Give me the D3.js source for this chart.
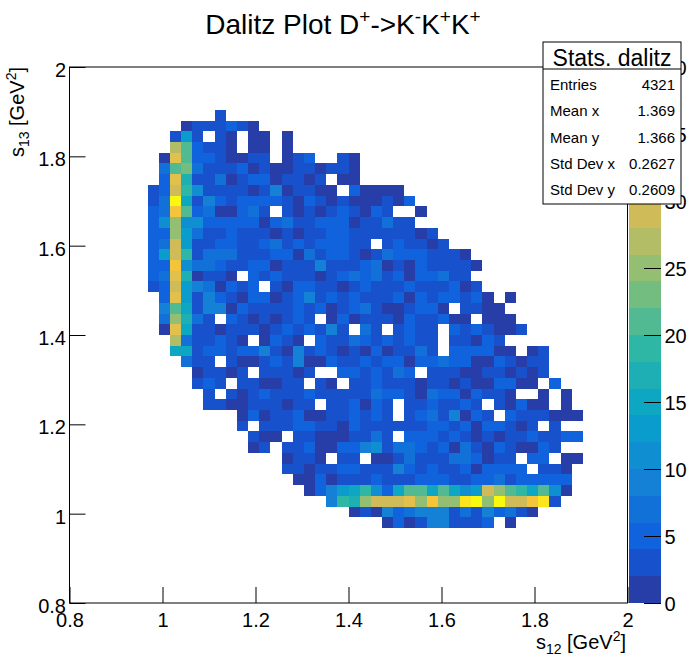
<!DOCTYPE html>
<html>
<head>
<meta charset="utf-8">
<script src="https://cdn.jsdelivr.net/npm/d3@7"></script>
<style>
  body { margin: 0; background: #fff; }
  svg { display: block; }
  text { font-family: "Liberation Sans", Arial, Helvetica, sans-serif; fill: #000; }
</style>
</head>
<body>
<svg id="chart" width="696" height="672"></svg>
<script>
// ---------------- data ----------------
// Histogram: 50 x 50 bins on [0.8, 2.0] in both s12 (x) and s13 (y).
const xRange = [0.8, 2.0];
const yRange = [0.8, 2.0];
const nBins = 50;
// Each row: [row index j (y bin), first column index i (x bin), bin contents]
// Bin content code: '.' = empty, then one character per colour level
// ('0'..'9','a'..'j' = level 0..19, level k holds counts 2k..2k+2, read as 2k+1).
const levelCodes = "0123456789abcdefghij";
const rows = [
  [45, 13, "1"],
  [44, 10, "0111210"],
  [43, 9,  "161.10.00.0"],
  [42, 9,  "da2110.00.0"],
  [41, 8,  "0fa2210011.012..10"],
  [40, 8,  "3ab311120100110110"],
  [39, 8,  "2f8113012201101.00"],
  [38, 7,  "12e95111101401100.20000"],
  [37, 7,  "13j714212222102101000102"],
  [36, 7,  "23ga2300231.1010121021..0"],
  [35, 7,  "25c552222202311222011311"],
  [34, 7,  "22c63112111010112211111101"],
  [33, 7,  "23e61122112312122211.121101"],
  [32, 7,  "26e91333111220312210132221110"],
  [31, 7,  "22g533211220111411123010211110"],
  [30, 7,  "23f80110.21211101232312022311"],
  [29, 7,  "12e6430212.1022110121112111201"],
  [28, 8,  "2f6142102201241212111202122120.0"],
  [27, 8,  "4a714402111121201231001220.1100"],
  [26, 8,  "3c831.21010121.0201110211200.000"],
  [25, 8,  "0f711011101212141.31.1211.2121001"],
  [24, 9,  "d311210.0210.21132121211.11021"],
  [23, 9,  "771221224104121010201131.222200.01"],
  [22, 10, "311.10012140021121220223220021011"],
  [21, 11, "01101.11101..2212132.11100110101"],
  [20, 11, "121.110011.10.11211101101002200.2"],
  [19, 12, "1.10121112111113221032202110..0.0"],
  [18, 12, "1100111011.112021.1121121.10200.0"],
  [17, 15, "02011200112121.12314021.2111000"],
  [16, 15, "1.1112211021111112212022101.1"],
  [15, 16, "100.110001131.2221210101121122"],
  [14, 16, "01.1120022451332120310210021"],
  [13, 19, "0110.11.0013111332011.22.00"],
  [12, 19, "1101122111421211202222.110"],
  [11, 20, "0020111211122211223122222"],
  [10, 21, "024679527aa7a756eca97a50"],
  [9,  23, "498ceeefcgccijcjeegi1"],
  [8,  25, "01042344413142310"],
  [7,  28, "0201441112.0"]
];

const xTicks = [0.8, 1.0, 1.2, 1.4, 1.6, 1.8, 2.0];
const xTickLabels = ["0.8", "1", "1.2", "1.4", "1.6", "1.8", "2"];
const yTicks = [0.8, 1.0, 1.2, 1.4, 1.6, 1.8, 2.0];
const yTickLabels = ["0.8", "1", "1.2", "1.4", "1.6", "1.8", "2"];
const zRange = [0, 40];
const zLevels = 20;
const zTicks = [0, 5, 10, 15, 20, 25, 30, 35, 40];
const zTickLabels = ["0", "5", "10", "15", "20", "25", "30", "35", "40"];

const statsTitle = "Stats. dalitz";
const statsNames = ["Entries", "Mean x", "Mean y", "Std Dev x", "Std Dev y"];
const statsValues = ["4321", "1.369", "1.366", "0.2627", "0.2609"];

// ---------------- palette (ROOT kBird) ----------------
const birdStops = [0.0, 0.125, 0.25, 0.375, 0.5, 0.625, 0.75, 0.875, 1.0];
const birdR = [0.2082, 0.0592, 0.0780, 0.0232, 0.1802, 0.5301, 0.8186, 0.9956, 0.9764];
const birdG = [0.1664, 0.3599, 0.5041, 0.6419, 0.7178, 0.7492, 0.7328, 0.7862, 0.9832];
const birdB = [0.5293, 0.8684, 0.8385, 0.7914, 0.6425, 0.4662, 0.3499, 0.1968, 0.0539];
const birdInterp = d3.scaleLinear().domain(birdStops)
  .range(birdStops.map((s, k) => d3.rgb(birdR[k] * 255, birdG[k] * 255, birdB[k] * 255)))
  .interpolate(d3.interpolateRgb).clamp(true);
function levelColor(k) {
  const p = Math.floor((k + 0.99) * 255 / zLevels);
  return birdInterp(p / 255);
}
const levelScale = d3.scaleQuantize().domain(zRange).range(d3.range(zLevels));

// ---------------- layout ----------------
const W = 696, H = 672;
const L = 69.5, R = 627.5, T = 67, B = 603;
const barX0 = 629, barX1 = 661;
const svg = d3.select("#chart");

const xs = d3.scaleLinear().domain(xRange).range([L, R]);
const ys = d3.scaleLinear().domain(yRange).range([B, T]);
const zs = d3.scaleLinear().domain(zRange).range([B, T]);
const bw = (xRange[1] - xRange[0]) / nBins;
const bh = (yRange[1] - yRange[0]) / nBins;

// decode cells
const cells = [];
rows.forEach(([j, i0, str]) => {
  for (let k = 0; k < str.length; k++) {
    const c = str[k];
    if (c === ".") continue;
    const lev = levelCodes.indexOf(c);
    cells.push({ i: i0 + k, j: j, v: 2 * lev + 1 });
  }
});

// ---------------- histogram cells ----------------
svg.append("g").attr("shape-rendering", "crispEdges")
  .selectAll("rect").data(cells).join("rect")
  .attr("x", d => xs(xRange[0] + d.i * bw))
  .attr("width", d => xs(xRange[0] + (d.i + 1) * bw) - xs(xRange[0] + d.i * bw))
  .attr("y", d => ys(yRange[0] + (d.j + 1) * bh))
  .attr("height", d => ys(yRange[0] + d.j * bh) - ys(yRange[0] + (d.j + 1) * bh))
  .attr("fill", d => levelColor(levelScale(d.v)));

// ---------------- frame and axes ----------------
svg.append("rect").attr("x", L).attr("y", T).attr("width", R - L).attr("height", B - T)
  .attr("fill", "none").attr("stroke", "#000").attr("stroke-width", 1);

const xMinor = d3.range(0, 25).map(k => +(0.8 + k * 0.05).toFixed(2));
const yMinor = xMinor;

const gx = svg.append("g").attr("transform", `translate(0,${B})`).style("color", "#000");
gx.call(d3.axisBottom(xs).tickValues(xMinor).tickSize(-8).tickFormat(""));
gx.call(d3.axisBottom(xs).tickValues(xTicks).tickSize(-16).tickPadding(9.5)
  .tickFormat((d, i) => xTickLabels[i]));
gx.selectAll(".domain").remove();
gx.selectAll("text").attr("font-size", 20).attr("font-family", null);

const gy = svg.append("g").attr("transform", `translate(${L},0)`).style("color", "#000");
gy.call(d3.axisLeft(ys).tickValues(yMinor).tickSize(-8).tickFormat(""));
gy.call(d3.axisLeft(ys).tickValues(yTicks).tickSize(-16).tickPadding(3.5)
  .tickFormat((d, i) => yTickLabels[i]));
gy.selectAll(".domain").remove();
gy.selectAll("text").attr("font-size", 20).attr("dy", "0.47em").attr("font-family", null);

// ---------------- colour bar ----------------
svg.append("g").attr("shape-rendering", "crispEdges")
  .selectAll("rect").data(d3.range(zLevels)).join("rect")
  .attr("x", barX0).attr("width", barX1 - barX0)
  .attr("y", k => zs((k + 1) * (zRange[1] - zRange[0]) / zLevels))
  .attr("height", k => zs(k * (zRange[1] - zRange[0]) / zLevels) - zs((k + 1) * (zRange[1] - zRange[0]) / zLevels))
  .attr("fill", k => levelColor(k));

const gz = svg.append("g").attr("transform", `translate(${barX1},0)`).style("color", "#000");
gz.call(d3.axisRight(zs).tickValues(zTicks).tickSize(-17).tickPadding(3.5)
  .tickFormat((d, i) => zTickLabels[i]));
gz.selectAll(".domain").remove();
gz.selectAll("text").attr("font-size", 20).attr("dy", "0.36em").attr("font-family", null);

// ---------------- titles ----------------
const title = svg.append("text").attr("x", 343).attr("y", 34)
  .attr("text-anchor", "middle").attr("font-size", 28);
title.append("tspan").text("Dalitz Plot D");
title.append("tspan").attr("font-size", 19).attr("dy", -11).text("+");
title.append("tspan").attr("dy", 11).text("->K");
title.append("tspan").attr("font-size", 19).attr("dy", -11).text("-");
title.append("tspan").attr("dy", 11).text("K");
title.append("tspan").attr("font-size", 19).attr("dy", -11).text("+");
title.append("tspan").attr("dy", 11).text("K");
title.append("tspan").attr("font-size", 19).attr("dy", -11).text("+");

function axisTitle(sel, sub) {
  sel.append("tspan").text("s");
  sel.append("tspan").attr("font-size", 14).attr("dy", 5).text(sub);
  sel.append("tspan").attr("dy", -5).text(" [GeV");
  sel.append("tspan").attr("font-size", 14).attr("dy", -8).text("2");
  sel.append("tspan").attr("dy", 8).text("]");
}
const xt = svg.append("text").attr("x", 626).attr("y", 649)
  .attr("text-anchor", "end").attr("font-size", 20);
axisTitle(xt, "12");
const yt = svg.append("text").attr("transform", "translate(24,67) rotate(-90)")
  .attr("text-anchor", "end").attr("font-size", 20);
axisTitle(yt, "13");

// ---------------- stats box ----------------
const sb = { x0: 543, x1: 681, y0: 42, y1: 204, ySep: 69 };
svg.append("rect").attr("x", sb.x0).attr("y", sb.y0)
  .attr("width", sb.x1 - sb.x0).attr("height", sb.y1 - sb.y0)
  .attr("fill", "#fff").attr("stroke", "#000").attr("stroke-width", 1);
svg.append("line").attr("x1", sb.x0).attr("x2", sb.x1).attr("y1", sb.ySep).attr("y2", sb.ySep)
  .attr("stroke", "#000").attr("stroke-width", 1);
svg.append("text").attr("x", (sb.x0 + sb.x1) / 2).attr("y", 66)
  .attr("text-anchor", "middle").attr("font-size", 23).text(statsTitle);
svg.append("g").selectAll("text").data(statsNames).join("text")
  .attr("x", 550).attr("y", (d, i) => 90 + 26.3 * i).attr("font-size", 15).text(d => d);
svg.append("g").selectAll("text").data(statsValues).join("text")
  .attr("x", 675).attr("y", (d, i) => 90 + 26.3 * i).attr("text-anchor", "end")
  .attr("font-size", 15).text(d => d);
</script>
</body>
</html>
